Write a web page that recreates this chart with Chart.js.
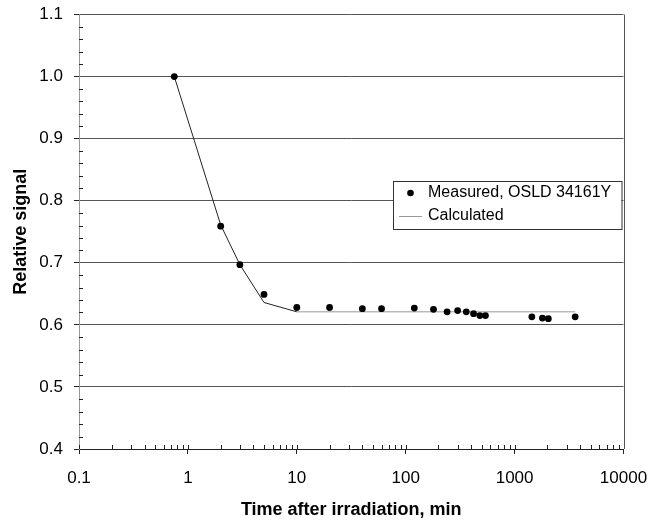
<!DOCTYPE html>
<html>
<head>
<meta charset="utf-8">
<script src="https://cdn.jsdelivr.net/npm/chart.js@4.4.0/dist/chart.umd.min.js"></script>
<style>
  html, body { margin: 0; padding: 0; background: #fff; }
  #wrap { width: 650px; height: 521px; }
</style>
</head>
<body>
<div id="wrap"><canvas id="chart" width="650" height="521"></canvas></div>
<script>
// measured OSLD signal vs time (min)
const measuredTime = [0.75, 2, 3, 5, 10, 20, 40, 60, 120, 180, 240, 300, 360, 420, 480, 540, 1440, 1800, 2040, 3600];
const measuredSignal = [1.0, 0.759, 0.697, 0.649, 0.628, 0.628, 0.626, 0.626, 0.627, 0.625, 0.621, 0.623, 0.621, 0.618, 0.615, 0.615, 0.613, 0.611, 0.610, 0.613];

// calculated curve
const calcTime = [0.75, 2, 3, 5, 10, 3600];
const calcSignal = [1.0, 0.761, 0.697, 0.636, 0.621, 0.621];

const xTicks = [0.1, 1, 10, 100, 1000, 10000];
const yTicks = [0.4, 0.5, 0.6, 0.7, 0.8, 0.9, 1.0, 1.1];

const FONT = "'Liberation Sans', Arial, sans-serif";

const measured = measuredTime.map((t, i) => ({ x: t, y: measuredSignal[i] }));
const calculated = calcTime.map((t, i) => ({ x: t, y: calcSignal[i] }));

// inner minor ticks, right border and the boxed legend
const decorations = {
  id: 'decorations',
  beforeDatasetsDraw(chart) {
    const { ctx, chartArea, scales } = chart;
    const xs = scales.x, ys = scales.y;
    ctx.save();
    ctx.strokeStyle = '#222';
    ctx.lineWidth = 1;
    ctx.beginPath();
    // x minor ticks (2..9 of each decade), pointing up into the plot
    for (let d = 0; d < xTicks.length - 1; d++) {
      for (let m = 2; m <= 9; m++) {
        const px = Math.round(xs.getPixelForValue(xTicks[d] * m)) + 0.5;
        ctx.moveTo(px, chartArea.bottom);
        ctx.lineTo(px, chartArea.bottom - 4);
      }
    }
    // decade ticks cross the axis a bit
    xTicks.forEach(v => {
      const px = Math.round(xs.getPixelForValue(v)) + 0.5;
      ctx.moveTo(px, chartArea.bottom);
      ctx.lineTo(px, chartArea.bottom - 4);
    });
    // y minor ticks every 0.02, pointing right into the plot
    for (let i = 0; i < yTicks.length - 1; i++) {
      for (let k = 1; k <= 4; k++) {
        const v = yTicks[i] + k * 0.02;
        const py = Math.round(ys.getPixelForValue(v)) + 0.5;
        ctx.moveTo(chartArea.left, py);
        ctx.lineTo(chartArea.left + 4, py);
      }
    }
    ctx.stroke();
    // right border
    ctx.strokeStyle = '#555';
    ctx.beginPath();
    const rx = Math.round(chartArea.right) + 0.5;
    ctx.moveTo(rx, chartArea.top);
    ctx.lineTo(rx, chartArea.bottom);
    ctx.stroke();
    ctx.restore();
  },
  afterDraw(chart) {
    const { ctx, chartArea } = chart;
    const right = chartArea.right - 2;
    const left = 393, top = 181, bottom = 229;
    ctx.save();
    ctx.fillStyle = '#fff';
    ctx.fillRect(left, top, right - left, bottom - top);
    ctx.strokeStyle = '#333';
    ctx.lineWidth = 1;
    ctx.strokeRect(left + 0.5, top + 0.5, right - left, bottom - top);

    ctx.fillStyle = '#000';
    ctx.beginPath();
    ctx.arc(410.5, 193, 3.3, 0, Math.PI * 2);
    ctx.fill();

    ctx.strokeStyle = '#999';
    ctx.beginPath();
    ctx.moveTo(399, 216.5);
    ctx.lineTo(422, 216.5);
    ctx.stroke();

    ctx.font = '16px ' + FONT;
    ctx.textBaseline = 'middle';
    ctx.textAlign = 'left';
    ctx.fillText('Measured, OSLD 34161Y', 428, 193);
    ctx.fillText('Calculated', 428, 216);
    ctx.restore();
  }
};

new Chart(document.getElementById('chart'), {
  type: 'scatter',
  data: {
    datasets: [
      {
        label: 'Calculated',
        data: calculated,
        showLine: true,
        borderColor: '#222',
        borderWidth: 1,
        pointRadius: 0,
        segment: {
          borderColor: c => (c.p0.parsed.x >= 10 ? '#9a9a9a' : '#222')
        },
        order: 2
      },
      {
        label: 'Measured, OSLD 34161Y',
        data: measured,
        showLine: false,
        backgroundColor: '#000',
        borderColor: '#000',
        pointRadius: 3.4,
        pointBorderWidth: 0,
        order: 1
      }
    ]
  },
  options: {
    responsive: false,
    animation: false,
    layout: { padding: { left: 0, right: 26.5, top: 14.5, bottom: 0 } },
    plugins: {
      legend: { display: false },
      tooltip: { enabled: false }
    },
    scales: {
      x: {
        type: 'logarithmic',
        min: 0.1,
        max: 10000,
        afterBuildTicks: s => { s.ticks = xTicks.map(v => ({ value: v })); },
        afterFit: s => { s.height = 72; s.paddingLeft = 0; s.paddingRight = 0; },
        ticks: {
          autoSkip: false,
          maxRotation: 0,
          padding: 14,
          color: '#000',
          font: { family: FONT, size: 17 },
          callback: v => String(v)
        },
        grid: { drawOnChartArea: false, tickLength: 5, color: '#222' },
        border: { display: true, color: '#222', width: 1 },
        title: {
          display: true,
          text: 'Time after irradiation, min',
          color: '#000',
          font: { family: FONT, size: 18, weight: 'bold' },
          padding: { top: 0, bottom: 0 }
        }
      },
      y: {
        min: 0.4,
        max: 1.1,
        afterBuildTicks: s => { s.ticks = yTicks.map(v => ({ value: v })); },
        afterFit: s => { s.width = 79; s.paddingTop = 0; s.paddingBottom = 0; },
        ticks: {
          padding: 11,
          color: '#000',
          font: { family: FONT, size: 17 },
          callback: v => v.toFixed(1)
        },
        grid: { color: '#555', tickLength: 5, tickColor: '#222' },
        border: { display: true, color: '#999', width: 1 },
        title: {
          display: true,
          text: 'Relative signal',
          color: '#000',
          font: { family: FONT, size: 18, weight: 'bold' },
          padding: { top: 10, bottom: 0 }
        }
      }
    }
  },
  plugins: [decorations]
});
</script>
</body>
</html>
